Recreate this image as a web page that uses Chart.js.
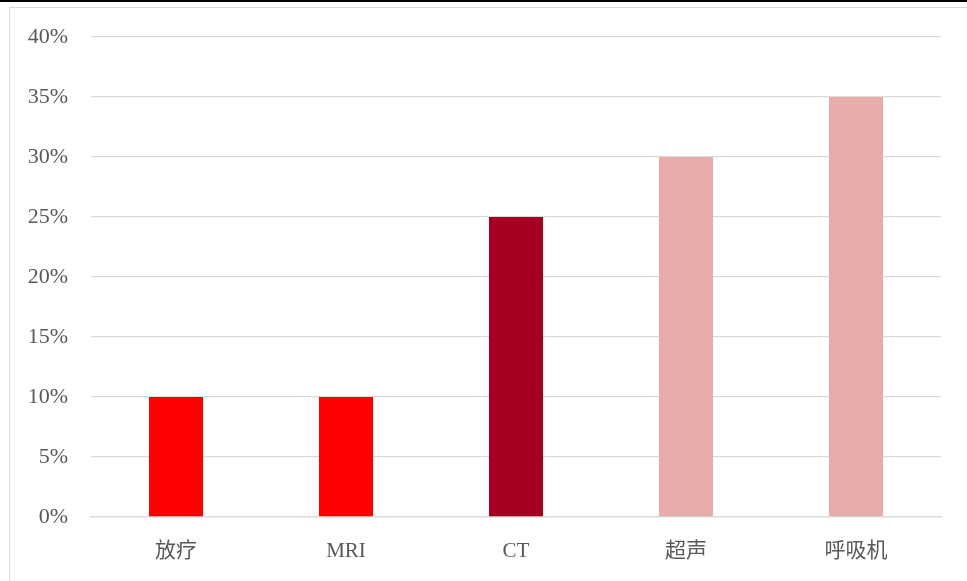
<!DOCTYPE html>
<html>
<head>
<meta charset="utf-8">
<script src="https://cdn.jsdelivr.net/npm/chart.js@4/dist/chart.umd.min.js"></script>
<style>
  html, body { margin: 0; padding: 0; background: #fff; overflow: hidden; }
  body { width: 967px; height: 581px; position: relative; }
  .topline { position: absolute; left: 0; top: 0; width: 967px; height: 2px; background: #000; }
  .frame { position: absolute; left: 9px; top: 7px; width: 970px; height: 590px;
           border-left: 1px solid #d9d9d9; border-top: 1px solid #d9d9d9; }
  .wrap { position: absolute; left: 10px; top: 8px; width: 957px; height: 573px; }
</style>
</head>
<body>
<div class="topline"></div>
<div class="frame"></div>
<div class="wrap"><canvas id="chart"></canvas></div>
<script>
// 各类设备占比
const categories = ['放疗', 'MRI', 'CT', '超声', '呼吸机'];
const shares = [10, 10, 25, 30, 35];
const barColors = ['#ff0000', '#ff0000', '#a50021', '#e8adab', '#e8adab'];
const yTicks = [0, 5, 10, 15, 20, 25, 30, 35, 40];

const fontFamily = '"Liberation Serif", "Times New Roman", "Noto Sans CJK SC", serif';

new Chart(document.getElementById('chart'), {
    type: 'bar',
    data: {
        labels: categories,
        datasets: [{
            data: shares,
            backgroundColor: barColors,
            borderWidth: 0,
            barPercentage: 0.318,
            categoryPercentage: 1
        }]
    },
    options: {
        responsive: true,
        maintainAspectRatio: false,
        animation: false,
        layout: { padding: { top: 29, right: 26, bottom: 0, left: 0 } },
        plugins: { legend: { display: false }, tooltip: { enabled: false } },
        scales: {
            x: {
                grid: { display: false },
                border: { color: '#d9d9d9', width: 1.3 },
                ticks: { color: '#595959', font: { family: fontFamily, size: 21 }, padding: 14 },
                afterFit: s => { s.height = 64; s.paddingLeft = 0; s.paddingRight = 0; }
            },
            y: {
                min: 0,
                max: 40,
                afterBuildTicks: s => { s.ticks = yTicks.map(v => ({ value: v })); },
                grid: { color: '#d9d9d9', lineWidth: 1.3, drawTicks: false },
                border: { display: false },
                ticks: {
                    color: '#595959',
                    font: { family: fontFamily, size: 22 },
                    padding: 23,
                    callback: v => v + '%'
                },
                afterFit: s => { s.width = 81; s.paddingTop = 0; s.paddingBottom = 0; }
            }
        }
    }
});
</script>
</body>
</html>
